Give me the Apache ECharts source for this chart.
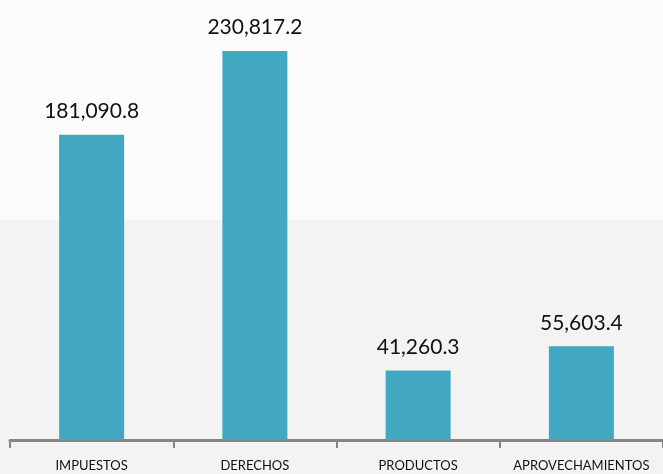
<!DOCTYPE html>
<html>
<head>
<meta charset="utf-8">
<script src="https://cdn.jsdelivr.net/npm/echarts@6/dist/echarts.min.js"></script>
<style>
  html, body { margin: 0; padding: 0; background: #fff; }
  #main { width: 663px; height: 474px; }
</style>
</head>
<body>
<div id="main"></div>
<script>
const categories = ["IMPUESTOS", "DERECHOS", "PRODUCTOS", "APROVECHAMIENTOS"];
const values = [181090.8, 230817.2, 41260.3, 55603.4];

const chart = echarts.init(document.getElementById("main"));

const fmt = (v) =>
  v.toLocaleString("en-US", { minimumFractionDigits: 1, maximumFractionDigits: 1 });

const option = {
  backgroundColor: "#fcfcfc",
  animation: false,
  graphic: [
    {
      type: "rect",
      z: -10,
      shape: { x: 0, y: 220, width: 663, height: 254 },
      style: { fill: "#f3f3f3" },
    },
  ],
  grid: { left: 10, right: -5, top: 18.6, bottom: 34 },
  xAxis: {
    type: "category",
    data: categories,
    axisLine: { lineStyle: { color: "#858585", width: 3 } },
    axisTick: { show: true, length: 8, lineStyle: { color: "#858585", width: 2 } },
    axisLabel: {
      interval: 0,
      color: "#111",
      fontFamily: "Lato",
      fontSize: 13,
      margin: 19,
    },
  },
  yAxis: {
    type: "value",
    min: 0,
    max: 250000,
    show: false,
    splitLine: { show: false },
  },
  series: [
    {
      type: "bar",
      data: values,
      barWidth: 65,
      itemStyle: { color: "#42a7c0" },
      label: {
        show: true,
        position: "top",
        distance: 13,
        color: "#111",
        fontFamily: "Lato",
        fontSize: 21,
        formatter: (p) => fmt(p.value),
      },
    },
  ],
};

chart.setOption(option);
</script>
</body>
</html>
